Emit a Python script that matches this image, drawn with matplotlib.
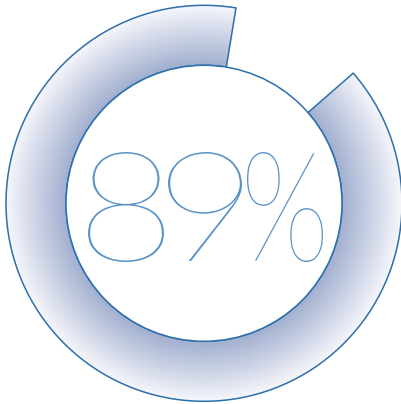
import numpy as np
import matplotlib
matplotlib.use("Agg")
import matplotlib.pyplot as plt
from matplotlib.patches import Wedge, Circle, PathPatch
from matplotlib.colors import LinearSegmentedColormap
from matplotlib.textpath import TextPath
from matplotlib.font_manager import FontProperties
from matplotlib.transforms import Affine2D

# gauge data
value = 89          # percent
label = "89%"
start_deg = 48.9    # clockwise from 12 o'clock where the arc begins

line_color = "#2c6fad"
text_color = "#5b93c6"
inner_color = "#a1afcf"
outer_color = "#f6f6fb"

W, H = 401, 404
cx, cy = 204, H - 203.3
r_out, r_in = 198, 138

fig = plt.figure(figsize=(W / 100, H / 100), dpi=100)
ax = fig.add_axes([0, 0, 1, 1])
ax.set_xlim(0, W)
ax.set_ylim(0, H)
ax.set_aspect("equal")
ax.axis("off")

sweep = value / 100 * 360
theta2 = 90 - start_deg
theta1 = theta2 - sweep

ring = Wedge((cx, cy), r_out, theta1, theta2, width=r_out - r_in,
             facecolor="none", edgecolor=line_color, linewidth=1.1, zorder=3)
ax.add_patch(ring)

# radial gradient clipped to the ring
xs = np.linspace(0, W, W * 2)
ys = np.linspace(0, H, H * 2)
X, Y = np.meshgrid(xs, ys)
R = np.hypot(X - cx, Y - cy)
t = np.clip((R - r_in) / (r_out - r_in), 0, 1)
cmap = LinearSegmentedColormap.from_list("ring", [inner_color, outer_color])
im = ax.imshow(t, cmap=cmap, extent=(0, W, 0, H), origin="lower",
               interpolation="bilinear", zorder=1)
clip = Wedge((cx, cy), r_out, theta1, theta2, width=r_out - r_in,
             transform=ax.transData)
im.set_clip_path(clip)

# full inner circle outline
ax.add_patch(Circle((cx, cy), r_in, facecolor="white", edgecolor=line_color,
                    linewidth=1.1, zorder=4))

# label glyphs, each fitted to its box (pixel x0, x1, y_top, y_bottom)
glyph_boxes = [(88, 164, 152, 262), (168, 242, 152, 261), (247, 323, 152, 262)]
fp = FontProperties(family="Lato", weight=100)
for ch, (x0, x1, yt, yb) in zip(label, glyph_boxes):
    tp = TextPath((0, 0), ch, size=100, prop=fp)
    ext = tp.get_extents()
    sx = (x1 - x0) / ext.width
    sy = (yb - yt) / ext.height
    tr = (Affine2D().translate(-ext.x0, -ext.y0).scale(sx, sy)
          .translate(x0, H - yb))
    ax.add_patch(PathPatch(tr.transform_path(tp), facecolor=text_color,
                           edgecolor="none", zorder=5))

fig.savefig("out.png", dpi=100, facecolor="white")
